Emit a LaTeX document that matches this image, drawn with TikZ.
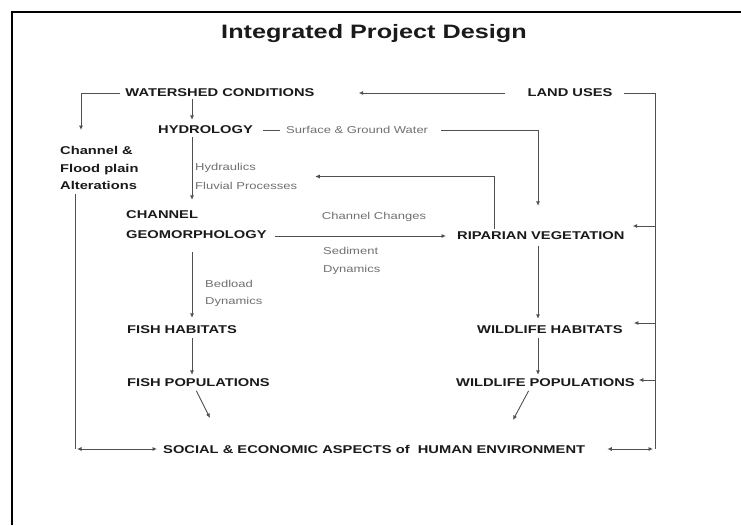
\documentclass[tikz,border=0pt]{standalone}
\usepackage{fontspec}
\setmainfont{Liberation Sans}
\newfontfamily\widef[FakeStretch=1.3]{Liberation Sans}
\usetikzlibrary{arrows.meta}
\definecolor{lab}{HTML}{1A1A1A}
\definecolor{smallc}{HTML}{707070}
\definecolor{ln}{HTML}{505050}
\tikzset{
  ttl/.style={font=\widef\bfseries\fontsize{19.4}{23}\selectfont, text=lab, inner sep=1pt},
  lbl/.style={font=\widef\bfseries\fontsize{11.3}{17.5}\selectfont, text=lab, inner sep=1pt},
  lbltwo/.style={font=\widef\bfseries\fontsize{11.3}{20}\selectfont, text=lab, inner sep=1pt},
  sml/.style={font=\widef\fontsize{10}{18}\selectfont, text=smallc, inner sep=1pt},
  conn/.style={draw=ln, line width=0.9pt},
  arr/.style={conn, -{Latex[length=4.5pt,width=4.2pt]}},
  darr/.style={conn, {Latex[length=4.5pt,width=4.2pt]}-{Latex[length=4.5pt,width=4.2pt]}},
}
\begin{document}
\begin{tikzpicture}[x=1pt,y=-1pt]
\useasboundingbox (0,0) rectangle (741,525);
\fill[white] (0,0) rectangle (741,525);
% frame
\draw[line width=2.5pt] (12,525) -- (12,12) -- (741,12);

% helper coordinates (x positions of vertical connectors)
\coordinate (xl) at (192,0);
\coordinate (xr) at (538,0);
\coordinate (xrv) at (494,0);
\coordinate (xfp) at (195,0);
\coordinate (xwp) at (530,0);
\coordinate (cfaTop) at (81,130);
\coordinate (bl) at (75,449);
\coordinate (br) at (655,449);
\coordinate (fpEnd) at (210,418);
\coordinate (wpEnd) at (513,420);

% nodes
\node[ttl] (title) at (374,34) {Integrated Project Design};
\node[lbl] (ws) at (220,93) {WATERSHED CONDITIONS};
\node[lbl] (lu) at (570,93) {LAND USES};
\node[lbl, anchor=west] (hyd) at (157,130) {HYDROLOGY};
\node[sml, anchor=west] (sgw) at (285,130) {Surface \& Ground Water};
\node[lbl, anchor=west, align=left] (cfa) at (59,168) {Channel \&\\Flood plain\\Alterations};
\node[sml, anchor=west, align=left, font=\widef\fontsize{10}{19}\selectfont] (hf) at (194,176.5) {Hydraulics\\Fluvial Processes};
\node[lbltwo, anchor=west, align=left] (cg) at (125,225) {CHANNEL\\GEOMORPHOLOGY};
\node[sml] (cc) at (374,217) {Channel Changes};
\node[sml, anchor=west, align=left] (sd) at (322,261) {Sediment\\Dynamics};
\node[sml, anchor=west, align=left, font=\widef\fontsize{10}{17}\selectfont] (bd) at (204,293.5) {Bedload\\Dynamics};
\node[lbl, anchor=west] (rv) at (456,236) {RIPARIAN VEGETATION};
\node[lbl, anchor=west] (fh) at (126,330) {FISH HABITATS};
\node[lbl, anchor=west] (wh) at (476,330) {WILDLIFE HABITATS};
\node[lbl, anchor=west] (fp) at (126,383) {FISH POPULATIONS};
\node[lbl, anchor=west] (wp) at (455,383) {WILDLIFE POPULATIONS};
\node[lbl, anchor=west] (se) at (162,449) {SOCIAL \& ECONOMIC ASPECTS of\ \ HUMAN ENVIRONMENT};

% connectors
\draw[arr, shorten <=21pt, shorten >=43pt] (lu.west) -- (ws.east);
\draw[arr] ([xshift=-4pt]ws.west) -| (cfaTop);
\draw[arr, shorten <=1pt, shorten >=5pt] (ws.south -| xl) -- (hyd.north -| xl);
\draw[conn] ([xshift=9pt]hyd.east) -- ([xshift=-5pt]sgw.west);
\draw[arr, shorten >=25pt] ([xshift=12pt]sgw.east) -| (rv.north -| xr);
\draw[arr, shorten <=2pt, shorten >=10pt] (hyd.south -| xl) -- (cg.north -| xl);
\draw[arr, shorten <=2pt, shorten >=17pt] (rv.north -| xrv) |- (hf.east);
\draw[arr, shorten <=7pt, shorten >=10pt] (cg.east |- rv.west) -- (rv.west);
\draw[arr, shorten <=12pt, shorten >=7pt] (cg.south -| xl) -- (fh.north -| xl);
\draw[arr, shorten <=3pt, shorten >=3pt] (fh.south -| xl) -- (fp.north -| xl);
\draw[arr, shorten <=5pt, shorten >=6pt] (rv.south -| xr) -- (wh.north -| xr);
\draw[arr, shorten <=3pt, shorten >=3pt] (wh.south -| xr) -- (wp.north -| xr);
\draw[arr, shorten <=3pt] (fp.south -| xfp) -- (fpEnd);
\draw[arr, shorten <=3pt] (wp.south -| xwp) -- (wpEnd);
% right loop
\draw[conn] ([xshift=10pt]lu.east) -| (br);
\draw[darr] ([xshift=21pt]se.east) -- ([xshift=-2pt]br);
\draw[arr, shorten >=7pt] ([yshift=10pt]rv.east -| br) -- ([yshift=10pt]rv.east);
\draw[arr, shorten >=10pt] ([yshift=7pt]wh.east -| br) -- ([yshift=7pt]wh.east);
\draw[arr, shorten >=3pt] ([yshift=3pt]wp.east -| br) -- ([yshift=3pt]wp.east);
% left loop
\draw[conn, shorten <=3pt] (cfa.south -| bl) -- (bl);
\draw[darr] ([xshift=2pt]bl) -- ([xshift=-5pt]se.west);
\end{tikzpicture}
\end{document}
